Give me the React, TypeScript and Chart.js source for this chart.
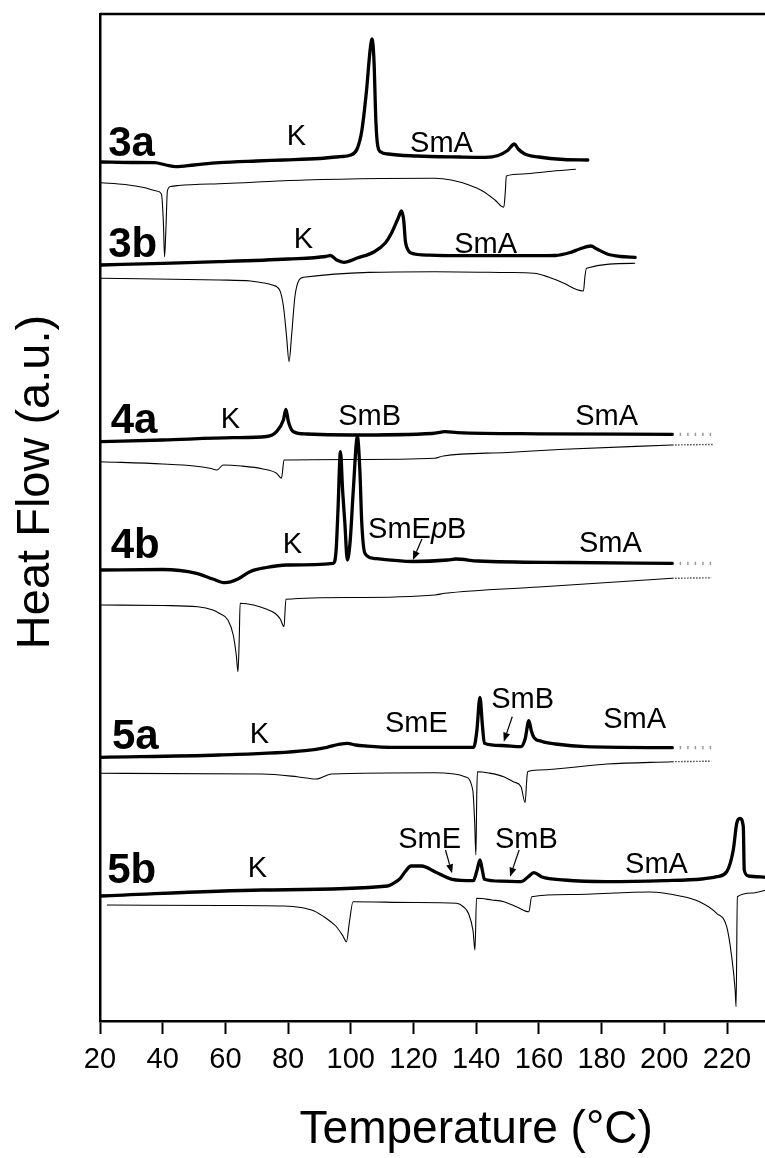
import React, { useEffect, useRef } from "react";
import { Chart, registerables } from "chart.js";

Chart.register(...registerables);

type Pt = [number, number];

const FONT = "Arial, 'Liberation Sans', Helvetica, sans-serif";

// x axis (temperature, °C)
const xTicks = [20, 40, 60, 80, 100, 120, 140, 160, 180, 200, 220, 240, 260];
const xMin = 20;
const xMax = 260;
// y axis (heat flow, arbitrary units, curves offset)
const yMin = 0;
const yMax = 1007;

// ---- heating (thick) and cooling (thin) DSC traces: [T (°C), heat flow (a.u.)]
const heat3a: Pt[] = [[20.3,859],[30,858.5],[37.4,858.3],[41,856],[44.2,854.3],[50,856],[58,858.3],[70,860],[78.7,861],[90,862.5],[96.5,864.3],[100,866],[102,872],[103.5,890],[105,930],[106.2,972],[106.8,982],[107.4,960],[108,900],[108.6,875],[109.6,869],[112,867],[121,865],[135,864],[143,863.7],[147,865.5],[150,870.5],[152.2,877],[153.4,872],[155.5,867],[160,864],[168,861.5],[175.6,861]];
const cool3a: Pt[] = [[20.3,838.3],[28,836.5],[34,833.5],[38,830],[39.6,827],[40.2,800],[40.6,764.3],[41.0,790],[41.5,830],[42.5,834.5],[45,835.5],[60,837.5],[85.5,841],[110,842.5],[126.8,842.7],[132,841],[137.7,836],[142,830],[146,821],[148.8,813.7],[149.3,830],[149.6,845],[155,847],[163,849.5],[171.8,851.7]];
const heat3b: Pt[] = [[20.3,756],[40,757.7],[58,759.3],[80,762],[92,764.5],[93.5,765.5],[95.5,761],[97.8,758.7],[102,763],[107.5,769.3],[111,778],[113,788],[115,802],[116.2,810],[116.9,800],[117.4,780],[117.8,774.3],[119.2,768],[125,765.8],[133.5,765.3],[160,765.3],[165.2,765.5],[170,768.5],[173,772],[176.6,775],[178.5,772],[181.8,767],[186,764.5],[190.7,763.7]];
const cool3b: Pt[] = [[20.3,742.7],[58,741],[68,740],[71.8,738.3],[75,736],[77.3,731],[78.5,715],[79.5,685],[80.3,659.3],[81.1,685],[82.2,725],[83.5,741],[84.9,743.7],[126.8,749.3],[150,748.5],[158.4,747.7],[163,744],[168,737.7],[172,731.5],[174.2,730],[174.7,745],[175.2,752.7],[190.7,757.7]];
const heat4a: Pt[] = [[20.3,579.3],[40,581],[62.5,583.3],[73.2,584.5],[76.3,589.3],[78.5,601],[79.3,611.7],[80.1,599.3],[81.7,589.3],[85.9,587],[100,586],[126,587.5],[130.2,589.3],[134,588.3],[160,587.2],[202.5,586.7]];
const cool4a: Pt[] = [[20.3,559.3],[40,557],[50,555],[55.1,552.7],[57.3,551],[59.3,556],[65,555],[72,552],[76.3,547.7],[77.9,542.7],[78.7,561],[100,561.5],[126.8,562.7],[129.5,565],[150,568.5],[168,571.7],[202.5,576]];
const heat4b: Pt[] = [[20.3,451],[40,451.5],[50.8,447.7],[56,442],[59.9,438.3],[64,442],[67.8,449.3],[73,453.5],[79.5,456],[94.4,457.7],[95.3,470],[95.9,510],[96.7,569.3],[97.4,530],[98.1,498],[98.9,461],[99.8,480],[100.8,531],[102.1,584.3],[102.9,550],[103.5,498],[104.5,467.7],[107.2,462.7],[119.8,459.5],[130.9,461],[133.5,462],[140.6,460],[170,458.5],[202.5,457.7]];
const cool4b: Pt[] = [[20.3,416],[40,415.5],[51.2,414.3],[56,411],[58,407.7],[60.8,401],[62.5,386],[63.5,365],[64,349.3],[64.4,380],[64.7,417.7],[69,416],[73,412],[75.8,407.7],[77.5,402],[78.7,394.3],[79.3,421.7],[100,423.5],[126.8,426],[130,427.7],[160,434],[202.5,442.7]];
const heat5a: Pt[] = [[20.3,263.7],[58,266],[85.5,270.3],[92.4,273.7],[96,276.5],[99,277.7],[101.5,276],[104.8,275],[113,273.7],[139.2,273.7],[140.2,290],[141.2,323.7],[142,295],[142.6,277.7],[148,275.5],[154.3,274.3],[155.6,282],[156.8,300.3],[157.6,290],[158.4,283.7],[161,279.5],[165.3,277],[174.9,274.3],[202.5,273.3]];
const cool5a: Pt[] = [[20.3,247.7],[71.8,247],[82.9,244.3],[89,242],[93.8,247],[126.8,248.3],[133,247],[136.4,244.3],[138.9,231],[139.5,200],[139.9,166],[140.2,230],[140.4,249.3],[144,248],[148.8,244.3],[152,239],[154.3,234.3],[155.6,218.3],[156.1,240],[156.4,249.3],[160,251],[181.7,257],[202.5,259.3]];
const heat5b: Pt[] = [[20.3,125],[71.8,131],[111.7,135],[113.5,137.5],[115.8,142.7],[117.5,150],[119.2,155],[122.6,155],[126.8,149.3],[132.3,141.7],[139.1,140.3],[140.2,150],[141.2,161],[142,150],[142.6,141.7],[148,139.8],[154.3,139.3],[156.5,144],[158.4,148.3],[161,144],[168,141],[181.7,139.3],[200,140.3],[212,142],[216.7,144.3],[219.9,149.3],[222,171],[223.1,197.7],[224.1,202.7],[225.2,194.3],[225.5,151],[226.8,145],[232.5,143.7]];
const cool5b: Pt[] = [[22.2,116],[60,115.5],[78.7,115],[84,113.5],[88.3,110],[92,103],[95.2,95],[97.5,85],[98.6,79.3],[99.6,100],[100.7,119.3],[120,118.5],[133.7,117.7],[136,114],[137.5,107.7],[139,90],[139.6,71],[140.1,122.7],[145,121],[148.8,119.3],[153,114],[156.8,109.3],[157.7,124.3],[170,126.5],[195.4,129],[205,125],[211.4,119],[216.7,107.7],[219.9,94.3],[221.5,64.3],[222.6,31],[222.9,14.3],[223.3,124.3],[228,128],[232.5,131]];

// dotted continuations (heating / cooling)
const ext4aH: Pt[] = [[202.5,586.7],[216,586.7]];
const ext4aC: Pt[] = [[202.5,576],[215.4,576.5]];
const ext4bH: Pt[] = [[202.5,457.7],[215,457.7]];
const ext4bC: Pt[] = [[202.5,442.7],[215,443.2]];
const ext5aH: Pt[] = [[202.5,273.3],[215,273.3]];
const ext5aC: Pt[] = [[202.5,259.3],[215,259.8]];

// sample names and positions (data units, left/baseline)
const sampleNames = ["3a", "3b", "4a", "4b", "5a", "5b"];
const samplePos: Pt[] = [[22.6,865],[22.6,764],[23.4,588.3],[23.4,463],[23.8,272.5],[22.3,138]];

// phase labels ("_" toggles italic)
const phaseText = ["K","SmA","K","SmA","K","SmB","SmA","K","SmE_p_B","SmA","K","SmE","SmB","SmA","K","SmE","SmB","SmA"];
const phasePos: Pt[] = [[79.6,876],[118.9,869],[81.8,773],[133,768],[58.5,593],[96,596],[171.6,596],[78.3,468],[105.5,483],[172.8,469],[67.8,278],[110.9,289],[144.8,313],[180.5,293],[67.1,144],[115.1,173],[146,173],[187.5,148]];

// arrows: [from T, from y, to T, to y]
const arrows: [number, number, number, number][] = [[122.7,482,119.8,461],[151.5,304.3,148.8,279.3],[130.2,171,132.3,147.7],[153.7,171,150.8,144.3]];

const heatCurves = [heat3a, heat3b, heat4a, heat4b, heat5a, heat5b];
const coolCurves = [cool3a, cool3b, cool4a, cool4b, cool5a, cool5b];
const heatExt = [ext4aH, ext4bH, ext5aH];
const coolExt = [ext4aC, ext4bC, ext5aC];

const annotPlugin = {
  id: "annot",
  afterDatasetsDraw(chart: any) {
    const { ctx, chartArea, scales } = chart;
    const xs = scales.x;
    const ys = scales.y;
    ctx.save();
    // frame (top and right)
    ctx.strokeStyle = "#000";
    ctx.lineWidth = 2.5;
    ctx.beginPath();
    ctx.moveTo(chartArea.left, chartArea.top);
    ctx.lineTo(chartArea.right, chartArea.top);
    ctx.lineTo(chartArea.right, chartArea.bottom);
    ctx.stroke();

    ctx.fillStyle = "#000";
    ctx.textAlign = "left";
    ctx.textBaseline = "alphabetic";
    ctx.font = `bold 42px ${FONT}`;
    sampleNames.forEach((t, i) => {
      ctx.fillText(t, xs.getPixelForValue(samplePos[i][0]), ys.getPixelForValue(samplePos[i][1]));
    });

    phaseText.forEach((t, i) => {
      let px = xs.getPixelForValue(phasePos[i][0]);
      const py = ys.getPixelForValue(phasePos[i][1]);
      t.split("_").forEach((seg, j) => {
        ctx.font = `${j % 2 ? "italic " : ""}29px ${FONT}`;
        ctx.fillText(seg, px, py);
        px += ctx.measureText(seg).width;
      });
    });

    ctx.lineWidth = 1.2;
    arrows.forEach(([t1, v1, t2, v2]) => {
      const x1 = xs.getPixelForValue(t1), y1 = ys.getPixelForValue(v1);
      const x2 = xs.getPixelForValue(t2), y2 = ys.getPixelForValue(v2);
      const a = Math.atan2(y2 - y1, x2 - x1);
      const L = 9, W = 3.5;
      const bx = x2 - L * Math.cos(a), by = y2 - L * Math.sin(a);
      ctx.beginPath();
      ctx.moveTo(x1, y1);
      ctx.lineTo(bx, by);
      ctx.stroke();
      ctx.beginPath();
      ctx.moveTo(x2, y2);
      ctx.lineTo(bx + W * Math.sin(a), by - W * Math.cos(a));
      ctx.lineTo(bx - W * Math.sin(a), by + W * Math.cos(a));
      ctx.closePath();
      ctx.fill();
    });

    // y axis title
    ctx.save();
    ctx.translate(49, 482);
    ctx.rotate(-Math.PI / 2);
    ctx.font = `47px ${FONT}`;
    ctx.textAlign = "center";
    ctx.fillText("Heat Flow (a.u.)", 0, 0);
    ctx.restore();

    ctx.restore();
  },
};

const toXY = (pts: Pt[]) => pts.map(([x, y]) => ({ x, y }));

export default function App() {
  const ref = useRef<HTMLCanvasElement | null>(null);
  useEffect(() => {
    if (!ref.current) return;
    Chart.defaults.font.family = FONT;
    const datasets: any[] = [];
    heatCurves.forEach((c) =>
      datasets.push({ data: toXY(c), borderColor: "#000", borderWidth: 3.3, pointRadius: 0, cubicInterpolationMode: "monotone", borderJoinStyle: "round", borderCapStyle: "round" })
    );
    coolCurves.forEach((c) =>
      datasets.push({ data: toXY(c), borderColor: "#000", borderWidth: 1.1, pointRadius: 0, cubicInterpolationMode: "monotone", borderJoinStyle: "round" })
    );
    heatExt.forEach((c) =>
      datasets.push({ data: toXY(c), borderColor: "#999", borderWidth: 3.3, pointRadius: 0, borderDash: [1.5, 6], borderCapStyle: "butt" })
    );
    coolExt.forEach((c) =>
      datasets.push({ data: toXY(c), borderColor: "#444", borderWidth: 1.4, pointRadius: 0, borderDash: [1.5, 1.5], borderCapStyle: "butt" })
    );
    const chart = new Chart(ref.current, {
      type: "line",
      data: { datasets },
      options: {
        animation: false,
        responsive: false,
        devicePixelRatio: 1,
        layout: { padding: { top: 14, right: 47.6, left: 0, bottom: 0 } },
        plugins: { legend: { display: false }, tooltip: { enabled: false } },
        scales: {
          x: {
            type: "linear",
            min: xMin,
            max: xMax,
            afterBuildTicks: (s: any) => {
              s.ticks = xTicks.map((v) => ({ value: v }));
            },
            afterFit: (s: any) => {
              s.height = 137;
            },
            ticks: { color: "#000", font: { size: 29, family: FONT }, padding: 9, autoSkip: false, maxRotation: 0 },
            grid: { display: true, drawOnChartArea: false, drawTicks: true, tickLength: 13, tickColor: "#000", tickWidth: 2 },
            border: { display: true, color: "#000", width: 2.5 },
            title: { display: true, text: "Temperature (°C)", color: "#000", font: { size: 46, family: FONT }, padding: { top: 0, bottom: 0 } },
          },
          y: {
            type: "linear",
            min: yMin,
            max: yMax,
            afterFit: (s: any) => {
              s.width = 100;
            },
            ticks: { display: false },
            grid: { display: false },
            border: { display: true, color: "#000", width: 2.5 },
            title: { display: false },
          },
        },
      },
      plugins: [annotPlugin],
    });
    return () => chart.destroy();
  }, []);
  return (
    <div style={{ position: "absolute", left: 0, top: 0, width: 765, height: 1158, overflow: "hidden", background: "#fff" }}>
      <canvas ref={ref} width={900} height={1158} style={{ width: 900, height: 1158, display: "block" }} />
    </div>
  );
}
